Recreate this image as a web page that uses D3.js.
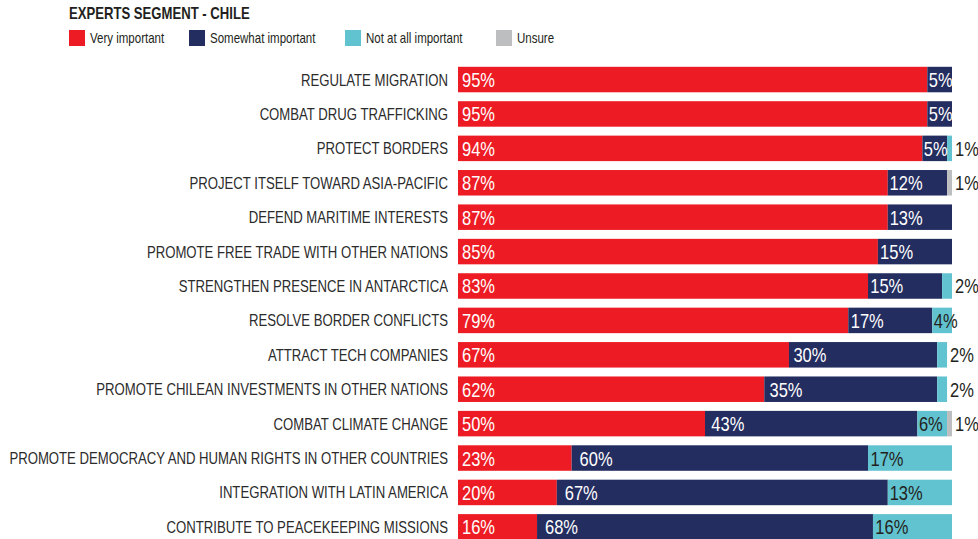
<!DOCTYPE html>
<html>
<head>
<meta charset="utf-8">
<script src="https://cdn.jsdelivr.net/npm/d3@7"></script>
<style>
  html, body { margin: 0; padding: 0; background: #ffffff; }
  svg { display: block; }
  text { font-family: "Liberation Sans", Arial, sans-serif; }
</style>
</head>
<body>
<svg id="chart" width="978" height="539"></svg>
<script>
const title = "EXPERTS SEGMENT - CHILE";
const seriesNames = ["Very important", "Somewhat important", "Not at all important", "Unsure"];
const seriesColors = ["#ED1C24", "#232D5F", "#62C3D0", "#BCBEC0"];
const categories = [
  "REGULATE MIGRATION",
  "COMBAT DRUG TRAFFICKING",
  "PROTECT BORDERS",
  "PROJECT ITSELF TOWARD ASIA-PACIFIC",
  "DEFEND MARITIME INTERESTS",
  "PROMOTE FREE TRADE WITH OTHER NATIONS",
  "STRENGTHEN PRESENCE IN ANTARCTICA",
  "RESOLVE BORDER CONFLICTS",
  "ATTRACT TECH COMPANIES",
  "PROMOTE CHILEAN INVESTMENTS IN OTHER NATIONS",
  "COMBAT CLIMATE CHANGE",
  "PROMOTE DEMOCRACY AND HUMAN RIGHTS IN OTHER COUNTRIES",
  "INTEGRATION WITH LATIN AMERICA",
  "CONTRIBUTE TO PEACEKEEPING MISSIONS"
];
const veryImportant     = [95, 95, 94, 87, 87, 85, 83, 79, 67, 62, 50, 23, 20, 16];
const somewhatImportant = [ 5,  5,  5, 12, 13, 15, 15, 17, 30, 35, 43, 60, 67, 68];
const notAtAllImportant = [ 0,  0,  1,  0,  0,  0,  2,  4,  2,  2,  6, 17, 13, 16];
const unsure            = [ 0,  0,  0,  1,  0,  0,  0,  0,  0,  0,  1,  0,  0,  0];

const seriesValues = [veryImportant, somewhatImportant, notAtAllImportant, unsure];

const svg = d3.select("#chart");
const SX = 0.8; // horizontal condensing to mimic a narrow typeface
const place = (sel, fx, fy) => sel.attr("transform", (d, i) => `translate(${fx(d, i)},${fy(d, i)}) scale(${SX},1)`);

const table = categories.map((c, i) => {
  const row = { category: c };
  seriesNames.forEach((s, k) => { row[s] = seriesValues[k][i]; });
  return row;
});
const stacked = d3.stack().keys(seriesNames)(table);

const x = d3.scaleLinear().domain([0, 100]).range([458, 952]);
const y = d3.scaleBand().domain(categories).range([66.8, 539.6]).paddingInner(0.259).paddingOuter(0);
const color = d3.scaleOrdinal().domain(seriesNames).range(seriesColors);

// Title
svg.append("text")
  .datum(title)
  .call(place, () => 69, () => 18.5)
  .attr("font-size", 16.4).attr("font-weight", "bold")
  .attr("fill", "#231F20")
  .text(d => d);

// Legend
const legendX = [69, 189, 345, 496];
const leg = svg.append("g").selectAll("g").data(seriesNames).join("g")
  .attr("transform", (d, i) => `translate(${legendX[i]},30)`);
leg.append("rect").attr("width", 16).attr("height", 16).attr("fill", d => color(d));
leg.append("text")
  .call(place, () => 21, () => 13.3)
  .attr("font-size", 14.4).attr("fill", "#231F20")
  .text(d => d);

// Category labels
svg.append("g").selectAll("text").data(categories).join("text")
  .call(place, () => 448, d => y(d) + y.bandwidth() / 2 + 6)
  .attr("text-anchor", "end")
  .attr("font-size", 16.45).attr("fill", "#2B2B2B")
  .text(d => d);

// Bars
const layers = svg.append("g").selectAll("g").data(stacked).join("g")
  .attr("fill", d => color(d.key));
layers.selectAll("rect").data(d => d.filter(p => p[1] - p[0] > 0)).join("rect")
  .attr("x", d => x(d[0]))
  .attr("y", d => y(d.data.category))
  .attr("width", d => x(d[1]) - x(d[0]))
  .attr("height", y.bandwidth());

// Value labels
const labels = [];
stacked.forEach((layer, k) => {
  layer.forEach(p => {
    const v = p[1] - p[0];
    if (v <= 0) return;
    const x0 = x(p[0]), x1 = x(p[1]);
    const w = x1 - x0;
    const cy = y(p.data.category) + y.bandwidth() / 2;
    let tx, fill;
    if (v >= 4) {
      const off = k === 0 ? 4 : Math.max(1.5, Math.min(8, w * 0.03));
      tx = x0 + off;
      fill = k <= 1 ? "#FFFFFF" : "#231F20";
    } else {
      tx = x1 + 3;
      fill = "#231F20";
    }
    labels.push({ v, tx, ty: cy + 7.5, fill });
  });
});
svg.append("g").selectAll("text").data(labels).join("text")
  .call(place, d => d.tx, d => d.ty)
  .attr("font-size", 20.6)
  .attr("fill", d => d.fill)
  .text(d => d.v + "%");
</script>
</body>
</html>
